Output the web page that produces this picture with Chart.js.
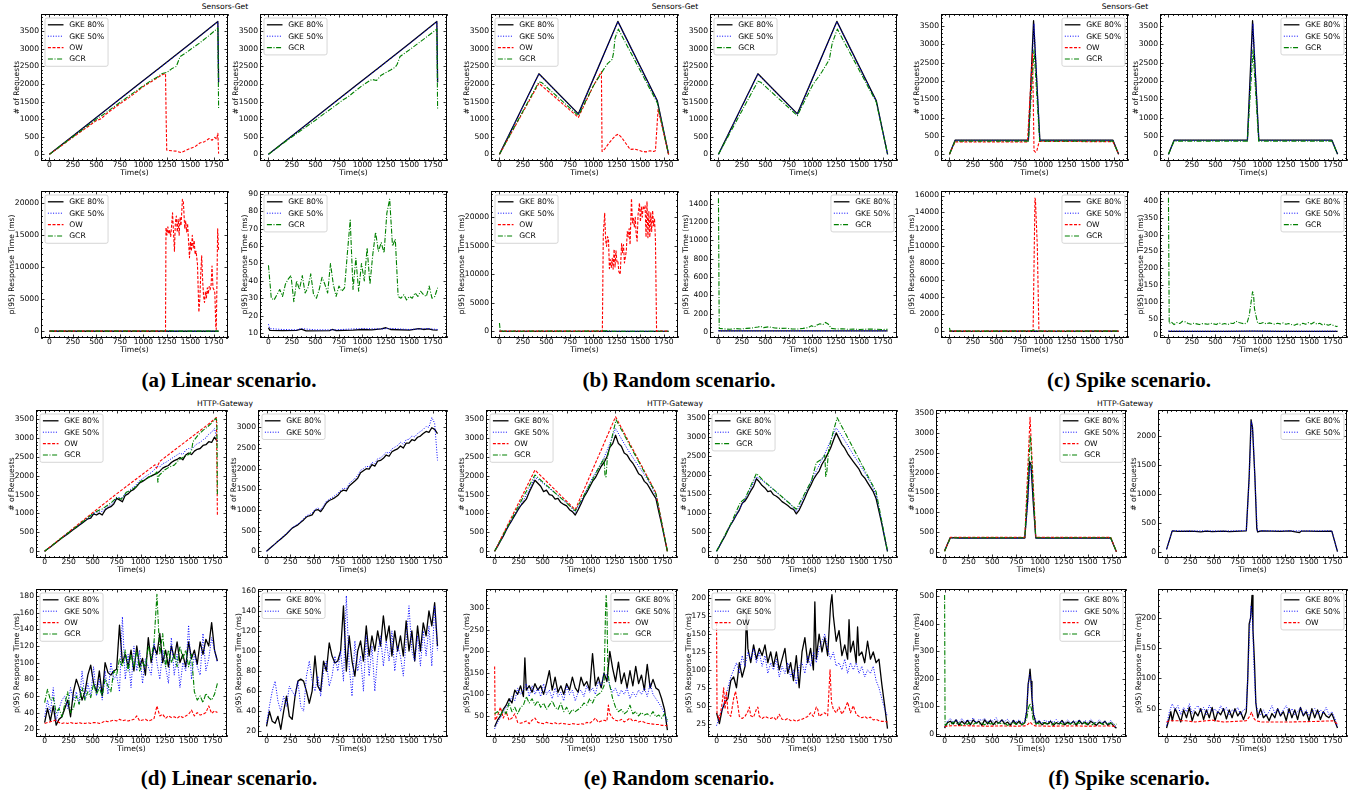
<!DOCTYPE html>
<html><head><meta charset="utf-8">
<script src="https://cdn.jsdelivr.net/npm/chart.js@4/dist/chart.umd.min.js"></script>
<style>
body{margin:0;background:#fff;width:1353px;height:795px;position:relative;overflow:hidden;}
canvas{position:absolute;}
.t{position:absolute;font:7.6px "DejaVu Sans";line-height:1;color:#000;transform:translate(-50%,-50%);white-space:nowrap;}
.cap{position:absolute;font:bold 21px "Liberation Serif";line-height:21px;color:#000;transform:translateX(-50%);white-space:nowrap;}
</style></head><body>
<div class="t" style="left:225px;top:7px">Sensors-Get</div>
<div class="t" style="left:675px;top:7px">Sensors-Get</div>
<div class="t" style="left:1125px;top:7px">Sensors-Get</div>
<div class="t" style="left:225px;top:404px">HTTP-Gateway</div>
<div class="t" style="left:675px;top:404px">HTTP-Gateway</div>
<div class="t" style="left:1125px;top:404px">HTTP-Gateway</div>
<div class="cap" style="left:229px;top:370px">(a) Linear scenario.</div>
<div class="cap" style="left:679px;top:370px">(b) Random scenario.</div>
<div class="cap" style="left:1129px;top:370px">(c) Spike scenario.</div>
<div class="cap" style="left:229px;top:768px">(d) Linear scenario.</div>
<div class="cap" style="left:679px;top:768px">(e) Random scenario.</div>
<div class="cap" style="left:1129px;top:768px">(f) Spike scenario.</div>
<script>
// ---------- tick labels ----------
const TIME_TICKS = [0,250,500,750,1000,1250,1500,1750];
const YT_REQ35 = [0,500,1000,1500,2000,2500,3000,3500];
const YT_REQ30 = [0,500,1000,1500,2000,2500,3000];
const YT_REQ20 = [0,500,1000,1500,2000];
const YT_RT20K = [0,5000,10000,15000,20000];
const YT_RT16K = [0,2000,4000,6000,8000,10000,12000,14000,16000];
const YT_RT90 = [10,20,30,40,50,60,70,80,90];
const YT_RT1400 = [0,200,400,600,800,1000,1200,1400];
const YT_RT400 = [0,50,100,150,200,250,300,350,400];
const YT_RT180 = [20,40,60,80,100,120,140,160,180];
const YT_RT160 = [20,40,60,80,100,120,140,160];
const YT_RT300 = [50,100,150,200,250,300];
const YT_RT200B = [25,50,75,100,125,150,175,200];
const YT_RT500 = [0,100,200,300,400,500];
const YT_RT200C = [50,100,150,200];
// time grid (s) for series given as plain value lists
const T30 = [0,30,60,90,120,150,180,210,240,270,300,330,360,390,420,450,480,510,540,570,
 600,630,660,690,720,750,780,810,840,870,900,930,960,990,1020,1050,1080,1110,1140,1170,
 1200,1230,1260,1290,1320,1350,1380,1410,1440,1470,1500,1530,1560,1590,1620,1650,1680,1710,1740,1770,1800];

// ---------- (a) Sensors-Get, linear ----------
const A_REQ_GKE80 = [[0,0],[300,630],[600,1260],[900,1890],[1200,2520],[1500,3150],[1792,3780],[1800,2050]];
const A_REQ_GKE50 = [[0,0],[300,625],[600,1255],[900,1880],[1200,2510],[1500,3140],[1792,3770],[1800,2050]];
const A_REQ_OW = [[0,0],[100,190],[200,390],[300,580],[400,770],[500,960],[550,1010],[600,1140],[700,1340],[800,1530],[850,1620],[900,1720],[1000,1930],[1100,2090],[1150,2180],[1200,2260],[1235,2300],[1242,1000],[1248,120],[1300,100],[1350,90],[1400,50],[1450,110],[1500,170],[1550,220],[1600,320],[1650,360],[1700,450],[1730,400],[1760,480],[1780,430],[1792,600],[1800,20]];
const A_REQ_GCR = [[0,0],[100,200],[200,400],[300,600],[400,800],[500,1000],[600,1180],[700,1380],[800,1570],[900,1760],[1000,1950],[1100,2130],[1150,2200],[1200,2300],[1250,2330],[1300,2430],[1350,2500],[1390,2780],[1450,2880],[1500,2980],[1600,3170],[1700,3380],[1792,3590],[1800,1300]];
const A_REQ2_GCR = [[0,0],[100,200],[200,400],[300,590],[400,780],[500,970],[600,1170],[700,1360],[800,1560],[850,1640],[900,1750],[1000,1960],[1100,2130],[1150,2100],[1200,2250],[1300,2400],[1350,2480],[1370,2560],[1400,2780],[1500,2970],[1600,3170],[1700,3370],[1792,3560],[1800,1300]];
const A_RT_GKE80 = [[0,13],[15,11.5],[150,11.3],[300,11.5],[350,12.2],[400,11.2],[650,11.3],[680,12],[720,11.4],[900,11.6],[1000,12],[1100,11.8],[1200,12.3],[1250,13],[1300,12],[1500,11.6],[1600,12.5],[1650,12],[1700,12.3],[1750,11.8],[1800,11.6]];
const A_RT_GKE50 = [[0,15],[15,12.5],[150,12],[300,11.8],[350,12.5],[500,11.8],[700,11.8],[900,12.3],[1000,12.5],[1200,12.3],[1300,12.6],[1500,12],[1600,12.3],[1700,12.5],[1800,12]];
const A_RT_OW = [[0,30],[1235,30],[1240,16200],[1250,15000],[1260,16300],[1270,15200],[1280,15800],[1290,14800],[1300,16500],[1310,18500],[1320,15500],[1330,12500],[1340,17000],[1350,18000],[1360,15500],[1370,17500],[1380,15000],[1390,17800],[1400,16500],[1415,20600],[1425,20200],[1440,16000],[1450,17200],[1460,15500],[1470,16800],[1490,11500],[1500,14000],[1510,12500],[1520,15000],[1530,13000],[1540,14200],[1550,12000],[1560,12500],[1575,10500],[1590,3000],[1600,5000],[1610,9000],[1620,11800],[1630,8000],[1640,5500],[1650,4500],[1660,6200],[1670,5200],[1680,6800],[1690,5800],[1700,7000],[1710,6500],[1720,7200],[1730,10200],[1740,6800],[1750,6500],[1760,6000],[1770,800],[1775,300],[1780,5000],[1790,16000],[1800,12500]];
const A_RT_GCR = [49,30,29,32,35,31,38,41,43,28, 40,35,43,33,36,44,32,30,35,42,
 38,33,50,38,31,37,34,36,56,75, 35,53,34,50,40,59,38,55,68,57,
 62,56,79,87,60,64,31,30,32,29, 31,30,33,31,34,32,31,37,30,31, 36];

// ---------- (b) Sensors-Get, random ----------
const B_REQ_GKE80 = [[0,0],[420,2290],[840,1150],[1260,3780],[1680,1520],[1800,0]];
const B_REQ_GKE50 = [[0,0],[420,2280],[840,1140],[1260,3770],[1680,1510],[1800,0]];
const B_REQ_OW = [[0,0],[420,2020],[840,1050],[1000,1950],[1085,2350],[1092,80],[1120,150],[1160,300],[1200,430],[1240,540],[1265,570],[1300,480],[1340,330],[1370,220],[1390,140],[1440,150],[1480,120],[1520,80],[1560,70],[1600,100],[1640,80],[1660,100],[1688,1280],[1800,0]];
const B_REQ_GCR = [[0,0],[420,2060],[450,2040],[840,1100],[1000,1950],[1100,2380],[1150,2580],[1200,2700],[1215,2900],[1230,3300],[1265,3560],[1680,1460],[1800,0]];
const B_REQ2_GCR = [[0,0],[420,2080],[450,2050],[840,1100],[1000,1960],[1100,2340],[1150,2560],[1180,2700],[1210,3150],[1265,3560],[1680,1480],[1800,0]];
const B_RT_GKE80 = [[0,14],[20,12],[300,12.5],[600,12],[900,12.5],[1200,12],[1500,12.5],[1800,12]];
const B_RT_GKE50 = [[0,15],[20,12.5],[300,12.8],[600,12.4],[900,12.9],[1200,12.5],[1500,12.8],[1800,12.4]];
const B_RT_OW = [[0,40],[1095,40],[1105,17000],[1120,20700],[1130,16000],[1140,14900],[1150,16600],[1160,16300],[1170,11000],[1180,12600],[1190,11200],[1200,12800],[1210,10900],[1220,14400],[1230,11300],[1240,14100],[1250,12200],[1260,12400],[1270,10500],[1285,10000],[1300,15400],[1310,13800],[1320,15200],[1330,12000],[1340,13000],[1350,14100],[1360,17500],[1370,16500],[1380,18000],[1390,15200],[1405,23300],[1415,19000],[1425,19800],[1435,18300],[1445,20000],[1455,17000],[1465,15800],[1475,20500],[1490,22500],[1500,19200],[1510,21800],[1520,20000],[1530,22000],[1540,21500],[1550,22000],[1560,16500],[1570,22700],[1580,16400],[1590,21000],[1600,16500],[1610,20800],[1620,17500],[1630,21200],[1640,18500],[1650,19800],[1660,16000],[1672,40],[1800,40]];
const B_RT_GCR = [[0,1460],[8,40],[60,35],[120,30],[180,38],[240,33],[300,40],[360,45],[420,55],[450,62],[480,48],[540,58],[570,50],[600,45],[660,40],[720,42],[780,35],[840,33],[900,40],[960,50],[990,70],[1020,55],[1050,78],[1080,90],[1110,80],[1140,105],[1170,85],[1200,40],[1260,32],[1320,36],[1380,30],[1440,33],[1500,28],[1560,31],[1620,33],[1680,30],[1740,28],[1800,30]];

// ---------- (c) Sensors-Get, spike ----------
const C_REQ_GKE80 = [[0,0],[60,385],[840,385],[895,3640],[962,385],[1740,385],[1800,0]];
const C_REQ_GKE50 = [[0,0],[60,380],[840,380],[900,3560],[962,380],[1740,380],[1800,0]];
const C_REQ_OW = [[0,0],[60,340],[830,340],[884,2750],[900,100],[915,60],[930,100],[955,350],[1740,345],[1800,0]];
const C_REQ_GCR = [[0,0],[60,360],[840,360],[900,2850],[960,360],[1740,360],[1800,0]];
const C_RT_GKE80 = [[0,12],[300,11.8],[600,12],[900,12.5],[1200,11.9],[1500,12],[1800,12]];
const C_RT_GKE50 = [[0,13],[300,12.2],[600,12.3],[900,12.8],[1200,12.2],[1500,12.3],[1800,12.5]];
const C_RT_OW = [[0,30],[890,30],[910,15700],[915,15500],[935,10000],[952,30],[1800,30]];
const C_RT_GCR = [[0,410],[8,35],[30,40],[60,32],[90,38],[120,35],[150,42],[180,40],[210,35],[240,33],[270,36],[300,34],[330,32],[360,35],[390,34],[420,33],[450,36],[480,34],[510,32],[540,37],[570,33],[600,35],[630,32],[660,36],[690,35],[720,42],[750,38],[780,36],[810,34],[840,40],[860,60],[880,100],[895,130],[905,125],[915,80],[930,60],[950,36],[980,35],[1010,38],[1040,34],[1070,37],[1100,35],[1130,33],[1160,36],[1190,34],[1220,37],[1250,33],[1280,35],[1310,32],[1340,30],[1370,34],[1400,31],[1430,36],[1460,33],[1490,38],[1520,34],[1550,39],[1580,33],[1610,36],[1640,31],[1670,34],[1700,30],[1730,33],[1760,29],[1790,26],[1800,27]];

// ---------- (d) HTTP-Gateway, linear ----------
const D_REQ_GKE80 = [0,60,115,175,235,290,350,405,460,520, 575,630,690,745,800,860,880,990,960,1010,
 960,1090,1150,1180,1250,1400,1360,1310,1480,1520, 1600,1640,1720,1810,1850,1900,1960,1990,2030,2060,
 2120,2200,2240,2270,2350,2400,2430,2480,2420,2550, 2600,2560,2650,2700,2720,2800,2820,2900,2880,3020, 2900];
const D_REQ_GKE50 = [0,60,120,180,240,300,360,415,470,530, 590,645,700,760,820,870,920,1000,1020,1060,
 1050,1130,1180,1230,1300,1430,1420,1400,1530,1580, 1650,1700,1780,1870,1920,1980,2030,2080,2150,2250,
 2230,2320,2350,2400,2450,2500,2550,2600,2560,2680, 2720,2700,2780,2850,2880,2950,3000,3100,3150,3250, 2900];
const D_REQ_OW = [[0,0],[250,510],[500,1020],[750,1520],[1000,2000],[1150,2290],[1165,2200],[1200,2380],[1400,2770],[1550,3060],[1700,3350],[1790,3540],[1800,950]];
const D_REQ_GCR = [[0,0],[100,200],[200,400],[300,590],[400,790],[500,990],[560,1080],[600,1120],[700,1300],[750,1420],[800,1380],[850,1560],[900,1620],[950,1700],[1000,1850],[1050,1900],[1100,1980],[1150,2050],[1170,2100],[1180,1830],[1190,2000],[1250,2150],[1300,2230],[1350,2280],[1400,2420],[1450,2500],[1500,2560],[1530,2650],[1545,2900],[1600,3080],[1650,3200],[1700,3300],[1750,3420],[1785,3520],[1795,3450],[1800,1500]];
const D_REQ2_GKE80 = [0,60,120,180,245,300,360,420,490,560, 600,640,700,760,830,860,880,990,1010,960,
 1060,1170,1230,1260,1300,1350,1440,1480,1460,1580, 1640,1700,1770,1900,1950,2000,1990,2100,2060,2180,
 2200,2250,2330,2300,2410,2450,2480,2550,2500,2620, 2620,2700,2680,2760,2790,2850,2900,2880,2990,2950, 2850];
const D_REQ2_GKE50 = [0,60,120,185,250,310,370,430,500,570, 620,660,720,790,860,890,930,1010,1050,1000,
 1100,1210,1260,1300,1350,1400,1480,1530,1510,1640, 1700,1760,1840,1960,2000,2060,2040,2150,2120,2240,
 2260,2320,2400,2370,2480,2520,2560,2640,2590,2700, 2710,2790,2770,2850,2900,2950,3020,3000,3240,3100, 2200];
const D_RT_GKE80 = [28,45,30,48,25,32,35,45,55,35, 65,80,70,55,65,85,97,75,65,90,
 60,100,88,85,90,92,145,100,110,95, 115,90,120,95,105,85,130,100,120,110,
 135,100,115,95,120,105,125,100,110,95, 125,105,115,98,125,110,128,120,148,115, 102];
const D_RT_GKE50 = [35,55,40,70,30,45,55,60,45,70, 55,65,50,90,55,75,60,95,60,80,
 55,90,62,100,80,85,65,155,80,110, 70,120,90,115,75,105,95,85,125,100,
 80,115,95,75,130,85,110,70,100,90, 145,80,110,95,85,135,90,105,130,115, 100];
const D_RT_OW = [27,28,29,30,31,28,27,28,27,28, 27,27,28,27,27,28,27,28,28,27,
 28,30,29,30,31,30,32,30,31,30, 31,32,36,30,31,32,30,31,33,48,
 36,38,33,36,34,35,33,36,34,36, 38,43,36,40,37,38,40,48,39,42, 40];
const D_RT_GCR = [52,68,55,58,40,45,35,50,65,40, 45,60,50,70,55,65,58,75,62,70,
 60,80,72,65,90,85,105,95,115,90, 110,95,115,90,100,95,120,105,125,182,
 110,135,95,115,100,110,95,120,105,115, 95,110,65,55,60,52,63,58,55,62, 75];
const D_RT2_GKE80 = [25,40,30,28,35,22,40,55,35,32, 55,70,72,70,60,48,60,95,65,60,
 90,80,108,95,88,90,100,145,80,115, 90,75,100,110,90,125,95,115,100,120,
 105,135,110,125,95,120,100,115,95,130, 100,120,90,125,100,128,115,140,125,148, 105];
const D_RT2_GKE50 = [28,45,60,70,50,40,55,45,65,60, 55,70,45,40,75,90,70,60,75,55,
 80,90,65,75,95,80,100,70,155,85, 55,110,80,95,60,115,75,105,60,95,
 115,85,110,90,120,80,105,95,75,110, 145,100,90,115,85,120,95,125,85,145, 100];

// ---------- (e) HTTP-Gateway, random ----------
const E_REQ_GKE80 = [0,130,270,400,560,700,820,950,1080,1200, 1290,1380,1560,1720,1880,1800,1720,1580,1620,1500,
 1480,1380,1400,1290,1240,1200,1100,1050,960,1100, 1260,1430,1560,1700,1850,1950,2100,2250,2350,2500,
 2750,2850,3070,2850,2780,2600,2550,2420,2330,2200, 2050,2000,1850,1780,1650,1520,1400,1050,720,360, 0];
const E_REQ_GKE50 = [[0,0],[60,270],[120,560],[180,830],[240,1100],[300,1350],[360,1620],[420,1960],[480,1850],[540,1720],[600,1600],[660,1480],[720,1350],[780,1220],[840,1030],[900,1300],[960,1640],[1020,1950],[1080,2200],[1140,2480],[1200,2850],[1260,3250],[1320,2980],[1380,2720],[1440,2480],[1500,2250],[1560,2030],[1620,1780],[1680,1480],[1740,760],[1800,0]];
const E_REQ_OW = [[0,0],[420,2150],[840,1100],[1260,3560],[1680,1550],[1800,0]];
const E_REQ_GCR = [[0,0],[420,2020],[840,1070],[1000,1800],[1100,2280],[1140,2450],[1150,2000],[1160,1970],[1175,2500],[1200,2750],[1230,3100],[1265,3480],[1680,1530],[1800,0]];
const E_REQ2_GKE80 = [0,130,270,400,560,700,820,960,1080,1260, 1320,1440,1580,1700,1900,1820,1720,1660,1560,1580,
 1480,1440,1380,1300,1250,1200,1130,1100,980,1080, 1240,1400,1580,1720,1880,2000,2100,2280,2400,2550,
 2700,2900,3100,2950,2800,2700,2560,2450,2350,2250, 2150,2000,1920,1800,1680,1560,1380,1050,720,350, 0];
const E_REQ2_GKE50 = [[0,0],[60,270],[120,560],[180,830],[240,1100],[300,1370],[360,1650],[420,1950],[480,1860],[540,1730],[600,1610],[660,1490],[720,1360],[780,1230],[840,1040],[900,1310],[960,1650],[1020,1960],[1080,2250],[1140,2550],[1200,2900],[1260,3230],[1320,3020],[1380,2780],[1440,2530],[1500,2300],[1560,2060],[1620,1800],[1680,1480],[1740,760],[1800,0]];
const E_REQ2_GCR = [[0,0],[150,720],[250,1280],[300,1380],[420,2040],[480,1880],[840,1100],[1000,1850],[1050,2320],[1100,2400],[1140,2520],[1150,1960],[1160,2050],[1180,2650],[1220,3050],[1270,3500],[1680,1560],[1800,0]];
const E_RT_GKE80 = [[0,25],[30,40],[60,50],[90,65],[120,75],[150,90],[180,80],[210,110],[240,100],[270,120],[300,95],[315,185],[330,110],[360,120],[390,105],[420,125],[450,110],[480,120],[510,100],[540,125],[570,155],[600,110],[630,140],[660,105],[690,120],[720,100],[750,125],[780,110],[810,140],[840,115],[870,105],[900,140],[930,120],[960,130],[990,110],[1020,195],[1050,120],[1080,140],[1110,115],[1140,150],[1170,130],[1200,200],[1230,160],[1260,130],[1290,175],[1320,125],[1350,150],[1380,115],[1410,155],[1440,120],[1470,165],[1500,125],[1530,145],[1560,110],[1590,170],[1620,115],[1650,135],[1680,115],[1710,110],[1740,90],[1770,65],[1800,17]];
const E_RT_GKE50 = [20,35,45,60,70,80,95,85,115,100, 110,125,95,120,100,115,95,125,100,110,
 90,115,95,105,85,120,100,110,85,105, 110,95,120,105,115,100,130,120,150,145,
 120,105,115,95,110,100,115,90,105,95, 110,100,115,95,125,100,90,80,70,55, 35];
const E_RT_OW = [[0,165],[5,40],[30,50],[60,70],[90,45],[120,60],[150,40],[180,45],[210,55],[240,35],[270,33],[300,35],[330,38],[360,32],[390,40],[420,45],[450,35],[480,33],[510,32],[540,35],[570,33],[600,32],[630,34],[660,31],[690,33],[720,32],[750,31],[780,30],[810,32],[840,31],[870,30],[900,32],[930,31],[960,35],[990,33],[1020,38],[1050,45],[1080,35],[1110,38],[1140,40],[1170,38],[1185,75],[1200,55],[1230,45],[1260,40],[1290,38],[1320,42],[1350,36],[1380,40],[1410,45],[1440,38],[1470,40],[1500,36],[1530,38],[1560,35],[1590,33],[1620,32],[1650,31],[1680,30],[1710,30],[1740,28],[1770,28],[1800,27]];
const E_RT_GCR = [[0,55],[30,60],[60,50],[90,65],[120,55],[150,80],[180,60],[210,70],[240,55],[270,70],[300,75],[330,95],[360,80],[390,90],[420,75],[450,85],[480,70],[510,80],[540,65],[570,75],[600,85],[630,70],[660,65],[690,80],[720,60],[750,70],[780,55],[810,65],[840,60],[870,65],[900,70],[930,80],[960,75],[990,90],[1020,80],[1050,95],[1080,100],[1110,105],[1140,120],[1155,290],[1162,330],[1170,300],[1180,150],[1200,120],[1230,90],[1260,70],[1290,60],[1320,65],[1350,55],[1380,60],[1410,75],[1440,55],[1470,60],[1500,50],[1530,58],[1560,52],[1590,55],[1620,50],[1650,60],[1680,48],[1710,52],[1740,45],[1770,55],[1800,40]];
const E_RT2_GKE80 = [[0,40],[30,25],[60,45],[90,55],[120,60],[150,85],[180,90],[210,75],[240,110],[270,90],[300,105],[315,180],[330,130],[360,110],[390,135],[420,115],[450,130],[480,120],[510,135],[540,110],[570,125],[600,105],[630,125],[660,100],[690,115],[720,130],[750,95],[780,110],[810,85],[840,120],[870,75],[900,125],[930,145],[960,110],[990,130],[1020,100],[1035,195],[1050,115],[1080,150],[1110,125],[1140,145],[1170,120],[1200,190],[1215,205],[1230,175],[1260,140],[1290,155],[1320,120],[1350,135],[1380,115],[1395,170],[1410,125],[1440,140],[1470,110],[1485,160],[1500,120],[1530,125],[1560,110],[1590,140],[1620,115],[1650,125],[1680,110],[1710,115],[1740,80],[1770,50],[1800,18]];
const E_RT2_GKE50 = [22,35,45,60,75,90,100,110,95,120, 105,125,115,130,110,125,105,120,95,110,
 100,115,90,105,95,110,90,100,80,105, 110,95,120,105,125,110,130,140,150,130,
 115,125,105,110,100,115,95,110,100,110, 95,105,90,100,95,105,85,75,60,45, 35];
const E_RT2_OW = [[0,165],[5,40],[30,30],[60,55],[75,75],[90,45],[105,70],[120,40],[150,35],[180,60],[200,70],[220,55],[240,35],[270,32],[300,35],[330,42],[345,48],[360,36],[390,34],[420,45],[435,48],[450,35],[480,32],[510,35],[540,33],[570,32],[600,34],[630,30],[660,38],[690,31],[720,30],[750,32],[780,29],[810,30],[840,28],[870,30],[900,31],[930,33],[960,35],[990,40],[1020,35],[1050,48],[1065,45],[1080,35],[1110,38],[1140,40],[1170,36],[1195,100],[1210,55],[1230,45],[1260,40],[1290,48],[1320,38],[1350,45],[1380,55],[1410,40],[1440,50],[1470,38],[1500,35],[1530,33],[1560,35],[1590,32],[1620,34],[1650,30],[1680,31],[1710,29],[1740,28],[1770,28],[1800,27]];

// ---------- (f) HTTP-Gateway, spike ----------
const F_REQ_GKE80 = [[0,30],[60,360],[150,350],[240,355],[330,345],[420,355],[510,350],[600,348],[690,355],[780,350],[840,350],[870,1300],[890,2280],[905,2200],[930,1200],[955,350],[1050,352],[1150,348],[1250,355],[1350,350],[1450,345],[1550,355],[1650,350],[1740,352],[1800,0]];
const F_REQ_GKE50 = [[0,35],[60,355],[200,345],[400,350],[600,352],[840,345],[872,1250],[895,2200],[910,2050],[935,1100],[955,345],[1200,350],[1500,348],[1740,350],[1800,0]];
const F_REQ_OW = [[0,20],[60,365],[840,365],[895,3400],[955,365],[1740,365],[1800,0]];
const F_REQ_GCR = [[0,10],[60,355],[840,355],[898,2940],[955,355],[1740,355],[1800,0]];
const F_REQ2_GKE80 = [[0,40],[60,360],[120,350],[240,355],[300,350],[360,340],[420,355],[480,345],[540,350],[600,355],[660,345],[720,350],[780,355],[840,360],[870,1300],[890,2280],[905,2150],[930,1300],[950,400],[960,340],[1000,360],[1100,355],[1200,350],[1300,360],[1400,330],[1420,355],[1500,355],[1600,350],[1740,355],[1800,0]];
const F_REQ2_GKE50 = [[0,40],[60,365],[200,355],[400,360],[600,355],[840,365],[870,1250],[893,2250],[910,2050],[935,1100],[955,360],[1200,360],[1500,358],[1740,360],[1800,0]];
const F_RT_GKE80 = [[0,20],[30,40],[60,45],[90,35],[120,50],[150,30],[180,45],[210,35],[240,48],[270,32],[300,50],[330,38],[360,45],[390,30],[420,50],[450,35],[480,48],[510,32],[540,45],[570,38],[600,50],[630,35],[660,42],[690,30],[720,48],[750,35],[780,45],[810,32],[840,40],[860,80],[875,180],[885,200],[895,235],[905,190],[915,130],[930,70],[960,35],[990,45],[1020,32],[1050,40],[1080,35],[1110,45],[1140,30],[1170,40],[1200,35],[1230,48],[1260,32],[1290,42],[1320,35],[1350,45],[1380,30],[1410,48],[1440,35],[1470,42],[1500,32],[1530,45],[1560,38],[1590,30],[1620,42],[1650,35],[1680,45],[1710,30],[1740,40],[1770,28],[1800,20]];
const F_RT_GKE50 = [[0,25],[30,45],[60,55],[90,40],[120,52],[150,38],[180,55],[210,42],[240,50],[270,45],[300,58],[330,40],[360,52],[390,48],[420,55],[450,42],[480,50],[510,45],[540,58],[570,40],[600,50],[630,45],[660,52],[690,38],[720,48],[750,42],[780,50],[810,40],[840,45],[860,90],[875,170],[890,215],[900,205],[915,150],[930,80],[960,40],[990,48],[1020,38],[1050,50],[1080,42],[1110,48],[1140,40],[1170,52],[1200,38],[1230,45],[1260,40],[1290,50],[1320,38],[1350,45],[1380,42],[1410,50],[1440,38],[1470,48],[1500,40],[1530,52],[1560,42],[1590,38],[1620,50],[1650,40],[1680,45],[1710,35],[1740,48],[1770,35],[1800,25]];
const F_RT_OW = [[0,25],[30,28],[150,29],[300,28],[450,27],[600,28],[750,27],[840,28],[870,33],[895,42],[920,33],[950,28],[1100,27],[1300,28],[1500,27],[1700,28],[1780,27],[1800,26]];
const F_RT_GCR = [[0,505],[5,30],[30,38],[60,32],[90,42],[120,35],[150,40],[180,30],[210,38],[240,34],[270,42],[300,33],[330,40],[360,35],[390,38],[420,32],[450,42],[480,35],[510,38],[540,32],[570,40],[600,35],[630,38],[660,30],[690,36],[720,40],[750,33],[780,38],[810,32],[840,40],[860,55],[880,95],[895,110],[910,90],[925,55],[945,35],[975,38],[1005,32],[1035,40],[1065,35],[1095,38],[1125,32],[1155,40],[1185,35],[1215,38],[1245,33],[1275,40],[1305,35],[1335,38],[1365,32],[1395,40],[1425,36],[1455,42],[1485,34],[1515,38],[1545,32],[1575,40],[1605,35],[1635,38],[1665,33],[1695,40],[1725,35],[1755,38],[1785,32],[1800,35]];
const F_RT2_GKE80 = [[0,18],[30,35],[45,45],[60,30],[90,50],[120,40],[150,28],[180,48],[210,35],[240,52],[270,30],[300,45],[330,38],[360,50],[390,32],[420,48],[450,35],[480,52],[510,30],[540,45],[570,40],[600,50],[630,33],[660,48],[690,35],[720,50],[750,38],[780,45],[810,32],[840,45],[855,100],[870,190],[885,200],[900,237],[910,180],[925,130],[940,60],[960,35],[990,50],[1020,35],[1050,40],[1080,30],[1110,42],[1140,35],[1170,50],[1200,38],[1230,45],[1260,30],[1290,50],[1320,35],[1350,48],[1380,32],[1410,52],[1440,38],[1470,45],[1500,30],[1530,50],[1560,35],[1590,48],[1620,32],[1650,45],[1680,38],[1710,35],[1740,42],[1770,30],[1800,18]];
const F_RT2_GKE50 = [[0,22],[30,45],[60,58],[90,48],[120,55],[150,40],[180,52],[210,45],[240,58],[270,42],[300,50],[330,55],[360,45],[390,52],[420,40],[450,56],[480,45],[510,50],[540,42],[570,55],[600,46],[630,52],[660,40],[690,48],[720,45],[750,52],[780,40],[810,48],[840,50],[860,120],[875,180],[890,220],[905,200],[920,120],[940,60],[960,45],[990,40],[1020,48],[1050,38],[1080,45],[1110,55],[1140,42],[1170,50],[1200,40],[1230,48],[1260,55],[1290,42],[1320,50],[1350,40],[1380,45],[1410,52],[1440,40],[1470,48],[1500,38],[1530,45],[1560,50],[1590,40],[1620,48],[1650,42],[1680,52],[1710,40],[1740,45],[1770,35],[1800,20]];
const F_RT2_OW = [[0,28],[30,30],[200,30],[300,28],[480,31],[600,28],[840,30],[870,36],[895,44],[915,35],[940,30],[1000,28],[1300,28],[1600,29],[1750,30],[1800,25]];

// ---------- styles & layout ----------
const ST = {
  k:{label:'GKE 80%', color:'#000000', width:1.3, dash:[], order:4},
  b:{label:'GKE 50%', color:'#0000ff', width:1, dash:[1,1.6], order:3},
  r:{label:'OW', color:'#ff0000', width:1.1, dash:[3,1.6], order:2},
  g:{label:'GCR', color:'#008000', width:1.1, dash:[5,1.6,1,1.6], order:1}
};
const REQ = '# of Requests', RT = 'p(95) Response Time (ms)';
const PANELS = [
 {box:[41,228,14,161], y:[-190,3990], yt:YT_REQ35, yl:REQ, leg:'ul', s:[['k',A_REQ_GKE80],['b',A_REQ_GKE50],['r',A_REQ_OW],['g',A_REQ_GCR]]},
 {box:[260,447,14,161], y:[-190,3990], yt:YT_REQ35, yl:REQ, leg:'ul', s:[['k',A_REQ_GKE80],['b',A_REQ_GKE50],['g',A_REQ2_GCR]]},
 {box:[41,228,191,338], y:[-1040,21900], yt:YT_RT20K, yl:RT, leg:'ul', s:[['k',A_RT_GKE80],['b',A_RT_GKE50],['r',A_RT_OW],['g',A_RT_GCR]]},
 {box:[260,447,191,338], y:[7.1,91.7], yt:YT_RT90, yl:RT, leg:'ul', s:[['k',A_RT_GKE80],['b',A_RT_GKE50],['g',A_RT_GCR]]},
 {box:[491,678,14,161], y:[-190,3990], yt:YT_REQ35, yl:REQ, leg:'ul', s:[['k',B_REQ_GKE80],['b',B_REQ_GKE50],['r',B_REQ_OW],['g',B_REQ_GCR]]},
 {box:[710,897,14,161], y:[-190,3990], yt:YT_REQ35, yl:REQ, leg:'ul', s:[['k',B_REQ_GKE80],['b',B_REQ_GKE50],['g',B_REQ2_GCR]]},
 {box:[491,678,191,338], y:[-1160,24600], yt:YT_RT20K, yl:RT, leg:'ul', s:[['k',B_RT_GKE80],['b',B_RT_GKE50],['r',B_RT_OW],['g',B_RT_GCR]]},
 {box:[710,897,191,338], y:[-65,1540], yt:YT_RT1400, yl:RT, leg:'ur', s:[['k',B_RT_GKE80],['b',B_RT_GKE50],['g',B_RT_GCR]]},
 {box:[941,1128,14,161], y:[-182,3822], yt:YT_REQ35, yl:REQ, leg:'ur', s:[['k',C_REQ_GKE80],['b',C_REQ_GKE50],['r',C_REQ_OW],['g',C_REQ_GCR]]},
 {box:[1160,1347,14,161], y:[-182,3822], yt:YT_REQ35, yl:REQ, leg:'ur', s:[['k',C_REQ_GKE80],['b',C_REQ_GKE50],['g',C_REQ_GCR]]},
 {box:[941,1128,191,338], y:[-780,16530], yt:YT_RT16K, yl:RT, leg:'ur', s:[['k',C_RT_GKE80],['b',C_RT_GKE50],['r',C_RT_OW],['g',C_RT_GCR]]},
 {box:[1160,1347,191,338], y:[-8,430], yt:YT_RT400, yl:RT, leg:'ur', s:[['k',C_RT_GKE80],['b',C_RT_GKE50],['g',C_RT_GCR]]},
 {box:[36,227,410,558], y:[-178,3739], yt:YT_REQ35, yl:REQ, leg:'ul', s:[['k',D_REQ_GKE80],['b',D_REQ_GKE50],['r',D_REQ_OW],['g',D_REQ_GCR]]},
 {box:[258,447,410,558], y:[-162,3420], yt:YT_REQ30, yl:REQ, leg:'ul', s:[['k',D_REQ2_GKE80],['b',D_REQ2_GKE50]]},
 {box:[36,227,589,737], y:[10.7,188.4], yt:YT_RT180, yl:RT, leg:'ul', s:[['k',D_RT_GKE80],['b',D_RT_GKE50],['r',D_RT_OW],['g',D_RT_GCR]]},
 {box:[258,447,589,737], y:[14.4,161.7], yt:YT_RT160, yl:RT, leg:'ul', s:[['k',D_RT2_GKE80],['b',D_RT2_GKE50]]},
 {box:[486,677,410,558], y:[-178,3739], yt:YT_REQ35, yl:REQ, leg:'ul', s:[['k',E_REQ_GKE80],['b',E_REQ_GKE50],['r',E_REQ_OW],['g',E_REQ_GCR]]},
 {box:[708,897,410,558], y:[-176,3700], yt:YT_REQ35, yl:REQ, leg:'ul', s:[['k',E_REQ2_GKE80],['b',E_REQ2_GKE50],['g',E_REQ2_GCR]]},
 {box:[486,677,589,737], y:[1,345], yt:YT_RT300, yl:RT, leg:'ur', s:[['k',E_RT_GKE80],['b',E_RT_GKE50],['r',E_RT_OW],['g',E_RT_GCR]]},
 {box:[708,897,589,737], y:[6.2,213], yt:YT_RT200B, yl:RT, leg:'ul', s:[['k',E_RT2_GKE80],['b',E_RT2_GKE50],['r',E_RT2_OW]]},
 {box:[936,1126,410,558], y:[-155,3585], yt:YT_REQ35, yl:REQ, leg:'ur', s:[['k',F_REQ_GKE80],['b',F_REQ_GKE50],['r',F_REQ_OW],['g',F_REQ_GCR]]},
 {box:[1158,1347,410,558], y:[-110,2449], yt:YT_REQ20, yl:REQ, leg:'ur', s:[['k',F_REQ2_GKE80],['b',F_REQ2_GKE50]]},
 {box:[936,1126,589,737], y:[-12.4,527], yt:YT_RT500, yl:RT, leg:'ur', s:[['k',F_RT_GKE80],['b',F_RT_GKE50],['r',F_RT_OW],['g',F_RT_GCR]]},
 {box:[1158,1347,589,737], y:[3.2,247.5], yt:YT_RT200C, yl:RT, leg:'ur', s:[['k',F_RT2_GKE80],['b',F_RT2_GKE50],['r',F_RT2_OW]]}
];

function toPts(a){
  return Array.isArray(a[0]) ? a.map(p => ({x:p[0], y:p[1]})) : a.map((v,i) => ({x:T30[i], y:v}));
}
function minorDiv(step){
  const m = step / Math.pow(10, Math.floor(Math.log10(step)));
  return [1,2.5,5,10].some(v => Math.abs(v-m) < 1e-6) ? 5 : 4;
}

const FONT = '7.6px "DejaVu Sans"';
const frameLegend = {
  id:'frameLegend',
  afterDatasetsDraw(chart, args, opts){
    const {ctx, chartArea:a, scales:{x, y}} = chart;
    ctx.save();
    // inward ticks (major + minor) on all sides
    ctx.strokeStyle = '#000'; ctx.lineWidth = 0.8;
    ctx.beginPath();
    const xt = TIME_TICKS, xs = xt[1]-xt[0], xm = xs/minorDiv(xs);
    for (let v = Math.ceil(x.min/xm)*xm; v <= x.max; v += xm){
      const px = Math.round(x.getPixelForValue(v)) + 0.5;
      const major = Math.abs(v/xs - Math.round(v/xs)) < 1e-6;
      const len = major ? 3.5 : 2;
      ctx.moveTo(px, a.bottom); ctx.lineTo(px, a.bottom - len);
      ctx.moveTo(px, a.top); ctx.lineTo(px, a.top + len);
    }
    const yt = opts.yt, ys = yt[1]-yt[0], ym = ys/minorDiv(ys);
    for (let i = Math.ceil(y.min/ym); i*ym <= y.max; i++){
      const v = i*ym;
      const py = Math.round(y.getPixelForValue(v)) + 0.5;
      const major = Math.abs(v/ys - Math.round(v/ys)) < 1e-6;
      const len = major ? 3.5 : 2;
      ctx.moveTo(a.left, py); ctx.lineTo(a.left + len, py);
      ctx.moveTo(a.right, py); ctx.lineTo(a.right - len, py);
    }
    ctx.stroke();
    ctx.lineWidth = 1;
    ctx.strokeRect(a.left + 0.5, a.top + 0.5, a.right - a.left - 1, a.bottom - a.top - 1);
    // legend inside the axes
    const ds = chart.data.datasets;
    ctx.font = FONT;
    const tw = Math.max(...ds.map(d => ctx.measureText(d.label).width));
    const bw = 3.4 + 15.6 + 5.7 + tw + 3.4, bh = ds.length*11.4 + 2.7;
    const bx = opts.pos === 'ur' ? a.right - 3.5 - bw : a.left + 3.5;
    const by = a.top + 3.5;
    ctx.beginPath();
    if (ctx.roundRect) ctx.roundRect(bx + 0.5, by + 0.5, bw, bh, 2); else ctx.rect(bx + 0.5, by + 0.5, bw, bh);
    ctx.fillStyle = 'rgba(255,255,255,0.8)'; ctx.fill();
    ctx.strokeStyle = '#cccccc'; ctx.lineWidth = 0.8; ctx.stroke();
    ds.forEach((d, i) => {
      const cy = by + 7.3 + i*11.4;
      ctx.beginPath();
      ctx.setLineDash(d.borderDash || []);
      ctx.strokeStyle = d.borderColor; ctx.lineWidth = d.borderWidth;
      ctx.moveTo(bx + 3.4, cy); ctx.lineTo(bx + 19, cy); ctx.stroke();
      ctx.setLineDash([]);
      ctx.fillStyle = '#000'; ctx.textBaseline = 'middle'; ctx.textAlign = 'left';
      ctx.fillText(d.label, bx + 24.7, cy + 0.5);
    });
    ctx.restore();
  }
};
Chart.register(frameLegend);
Chart.defaults.font.family = '"DejaVu Sans"';
Chart.defaults.font.size = 7.6;
Chart.defaults.color = '#000';

PANELS.forEach(p => {
  const [x0, x1, y0, y1] = p.box;
  const W = x1 - x0 + 46, H = y1 - y0 + 26;
  const cv = document.createElement('canvas');
  cv.width = W; cv.height = H;
  cv.style.left = (x0 - 40) + 'px'; cv.style.top = (y0 - 8) + 'px';
  cv.style.width = W + 'px'; cv.style.height = H + 'px';
  document.body.appendChild(cv);
  const digits = Math.max(...p.yt.map(v => String(v).length));
  const off = 4.6*digits + 5.5;
  new Chart(cv, {
    type:'line',
    data:{datasets: p.s.map(([k, arr]) => ({
      label: ST[k].label, data: toPts(arr), borderColor: ST[k].color, backgroundColor: ST[k].color,
      borderWidth: ST[k].width, borderDash: ST[k].dash, pointRadius: 0, fill: false, tension: 0,
      borderJoinStyle: 'round', order: ST[k].order, spanGaps: true
    }))},
    options:{
      responsive:false, animation:false, devicePixelRatio:1, events:[],
      layout:{padding:{top:8, right:6, left:0, bottom:0}},
      plugins:{legend:{display:false}, tooltip:{enabled:false}, frameLegend:{pos:p.leg, yt:p.yt}},
      scales:{
        x:{type:'linear', bounds:'data', min:-90, max:1900,
           grid:{display:false, drawTicks:false}, border:{display:false},
           ticks:{padding:0.2, maxRotation:0, minRotation:0, autoSkip:false, font:{size:7.6, lineHeight:1}, callback:v => String(v)},
           afterBuildTicks:s => { s.ticks = TIME_TICKS.map(v => ({value:v})); },
           afterFit:s => { s.height = 18; },
           title:{display:true, text:'Time(s)', padding:{top:0, bottom:1.1}, font:{size:7.6}}},
        y:{type:'linear', bounds:'data', min:p.y[0], max:p.y[1],
           grid:{display:false, drawTicks:false}, border:{display:false},
           ticks:{padding:2, autoSkip:false, font:{size:7.6, lineHeight:1}, callback:v => String(v)},
           afterBuildTicks:s => { s.ticks = p.yt.map(v => ({value:v})); },
           afterFit:s => { s.width = 40; },
           title:{display:true, text:p.yl, padding:{top:40 - off - 4.56, bottom:0}, font:{size:7.6}}}
      }
    }
  });
});
</script>
</body></html>
